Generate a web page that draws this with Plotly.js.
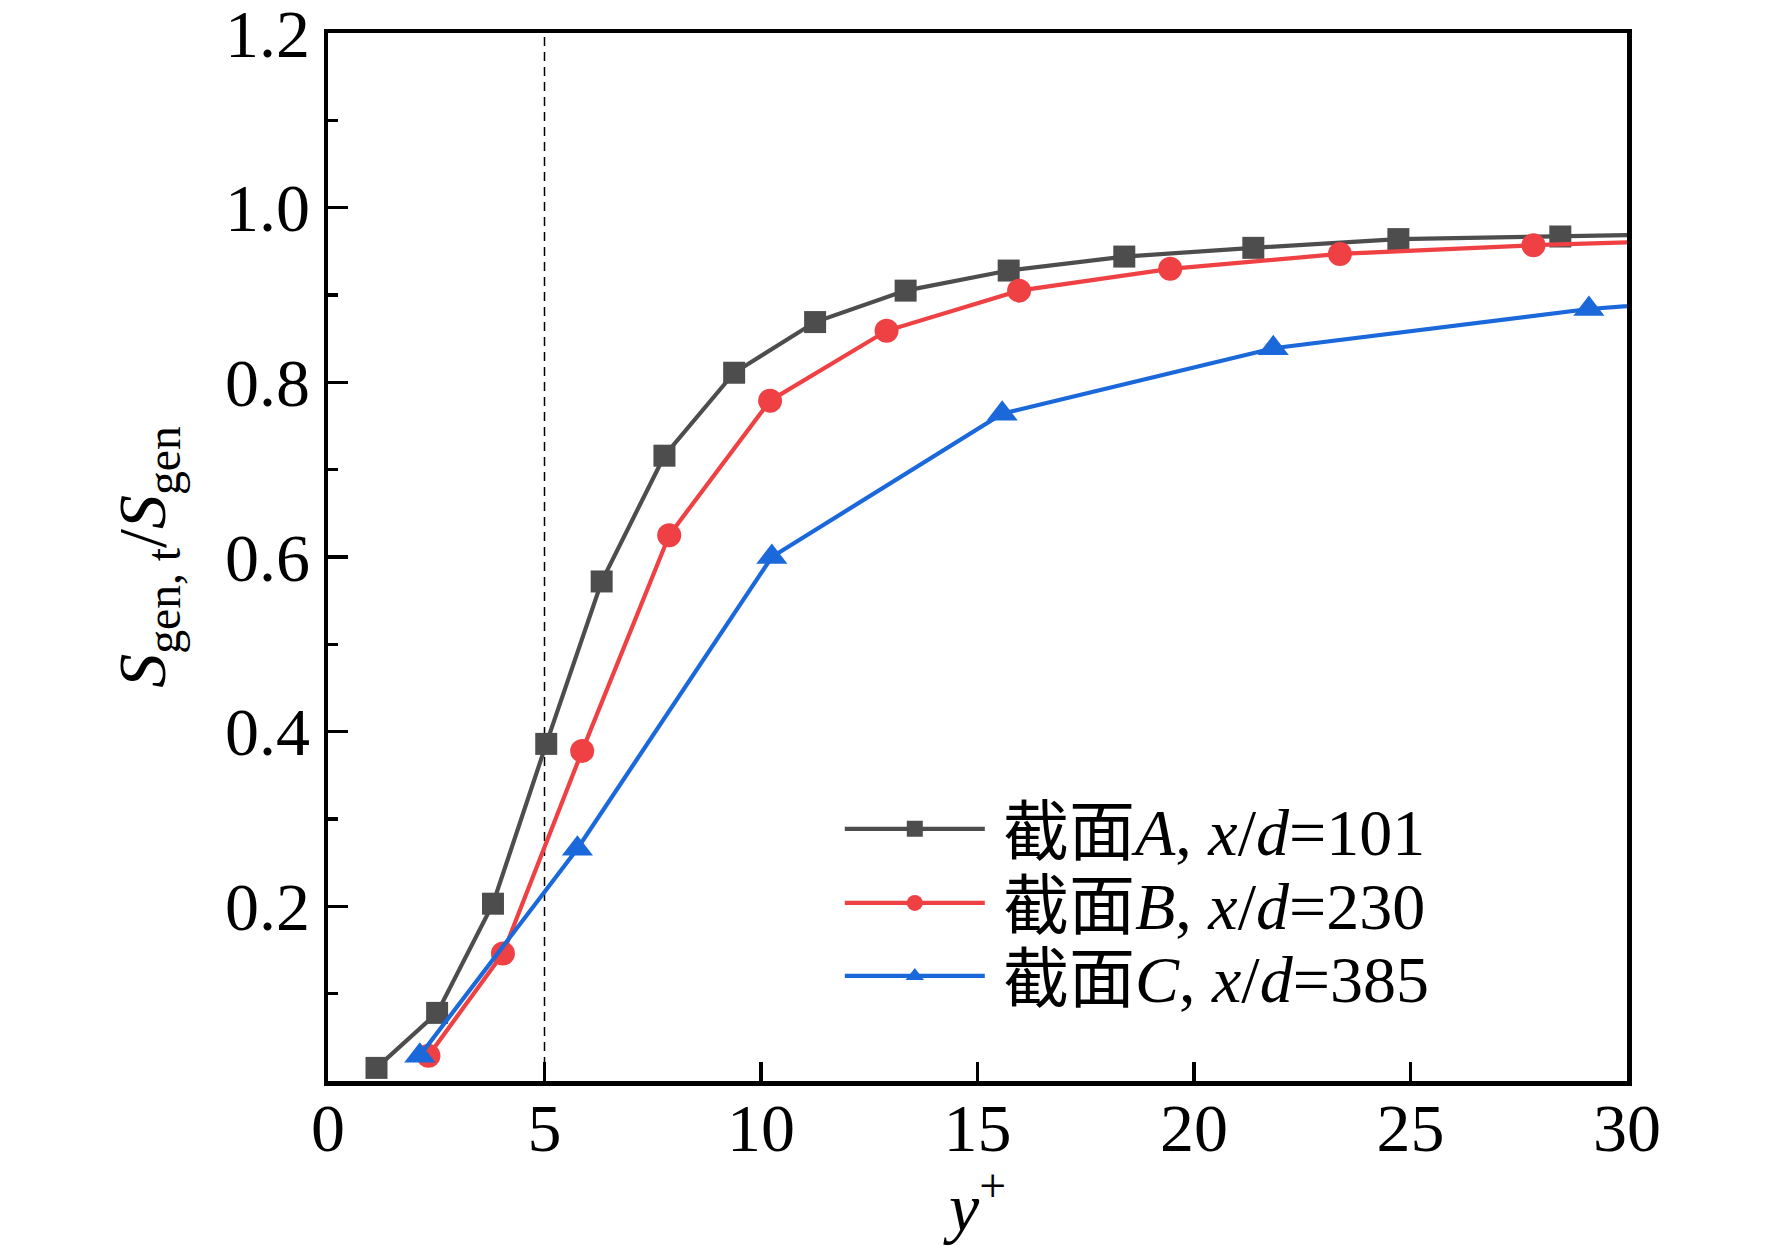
<!DOCTYPE html>
<html>
<head>
<meta charset="utf-8">
<script src="https://cdn.plot.ly/plotly-3.0.1.min.js"></script>
<style>
  html, body { margin: 0; padding: 0; background: #fff; }
  #chart { width: 1772px; height: 1246px; }
</style>
</head>
<body>
<div id="chart"></div>
<script>
// ─── data ──────────────────────────────────────────────────
// section A, x/d = 101
var xA = [1.12, 2.52, 3.81, 5.04, 6.32, 7.77, 9.38, 11.25, 13.34, 15.72, 18.39, 21.37, 24.72, 28.46, 32.77];
var yA = [0.015, 0.078, 0.203, 0.386, 0.572, 0.716, 0.811, 0.869, 0.905, 0.928, 0.944, 0.954, 0.964, 0.967, 0.971];
// section B, x/d = 230
var xB = [2.32, 4.04, 5.87, 7.88, 10.21, 12.90, 15.96, 19.45, 23.37, 27.84, 33.1];
var yB = [0.029, 0.146, 0.378, 0.625, 0.779, 0.859, 0.905, 0.930, 0.947, 0.957, 0.965];
// section C, x/d = 385
var xC = [2.12, 5.76, 10.25, 15.57, 21.83, 29.12, 38.8];
var yC = [0.029, 0.266, 0.600, 0.764, 0.839, 0.884, 0.920];

// thin space in front keeps the gap after the legend line
var seriesNames = [
  '\u2009截面<i>A</i>, <i>x</i>/<i>d</i>=101',
  '\u2009截面<i>B</i>, <i>x</i>/<i>d</i>=230',
  '\u2009截面<i>C</i>, <i>x</i>/<i>d</i>=385'
];

var yTickVals = [0.2, 0.4, 0.6, 0.8, 1.0, 1.2];
var yTickText = ['0.2', '0.4', '0.6', '0.8', '1.0', '1.2'];
var yMinorVals = [0.1, 0.3, 0.5, 0.7, 0.9, 1.1];
var xTickVals = [0, 5, 10, 15, 20, 25, 30];
var refLineX = 5;

// ─── styling ───────────────────────────────────────────────
var SERIF = "'Liberation Serif', 'Times New Roman', 'Noto Sans CJK SC', serif";
var colors = ['#4d4d4d', '#ef4143', '#1a68da'];
var symbols = ['square', 'circle', 'triangle-up'];
var sizes = [22, 24, 27];
var legendNames = ['legend', 'legend2', 'legend3'];
var legendY = [0.2405, 0.1698, 0.1002];

var xs = [xA, xB, xC];
var ys = [yA, yB, yC];

var traces = xs.map(function (x, i) {
  return {
    type: 'scatter',
    mode: 'lines+markers',
    name: seriesNames[i],
    x: x,
    y: ys[i],
    legend: legendNames[i],
    line: { color: colors[i], width: 4.2 },
    marker: { symbol: symbols[i], size: sizes[i], color: colors[i], line: { width: 0 } },
    cliponaxis: true
  };
});

function legendBox(y) {
  return {
    x: 0.394, xanchor: 'left',
    y: y, yanchor: 'middle',
    bgcolor: 'rgba(0,0,0,0)',
    borderwidth: 0,
    itemwidth: 140,
    font: { family: SERIF, size: 66, color: '#000' }
  };
}

var axisCommon = {
  showgrid: false,
  zeroline: false,
  showline: true,
  mirror: true,
  linecolor: '#000',
  linewidth: 4.5,
  ticks: 'inside',
  tickcolor: '#000',
  tickwidth: 3.5,
  ticklabeloverflow: 'allow',
  tickfont: { family: SERIF, size: 68, color: '#000' }
};

var layout = {
  width: 1772,
  height: 1246,
  paper_bgcolor: '#fff',
  plot_bgcolor: '#fff',
  margin: { l: 328, r: 145, t: 33, b: 165 },
  showlegend: true,
  legend: legendBox(legendY[0]),
  legend2: legendBox(legendY[1]),
  legend3: legendBox(legendY[2]),
  xaxis: Object.assign({}, axisCommon, {
    range: [0, 30],
    tickmode: 'array',
    tickvals: xTickVals,
    ticklen: 19,
    ticklabelstandoff: -16,
    title: { text: '<i>y</i><sup>+</sup>', font: { family: SERIF, size: 68, color: '#000' }, standoff: 22 }
  }),
  yaxis: Object.assign({}, axisCommon, {
    range: [0, 1.2],
    tickmode: 'array',
    tickvals: yTickVals,
    ticktext: yTickText,
    ticklen: 20,
    minor: { tickmode: 'array', tickvals: yMinorVals, ticks: 'inside', ticklen: 10, tickwidth: 3.5, tickcolor: '#000' },
    title: {
      text: '<i>S</i><sub>gen, t</sub>/<i>S</i><sub>gen</sub>',
      font: { family: SERIF, size: 68, color: '#000' },
      standoff: 38
    }
  }),
  shapes: [{
    type: 'line', xref: 'x', yref: 'paper',
    x0: refLineX, x1: refLineX, y0: 0, y1: 1,
    line: { color: '#000', width: 1.5, dash: '9px,6px' },
    layer: 'below'
  }]
};

Plotly.newPlot('chart', traces, layout, { staticPlot: true, displayModeBar: false });
</script>
</body>
</html>
